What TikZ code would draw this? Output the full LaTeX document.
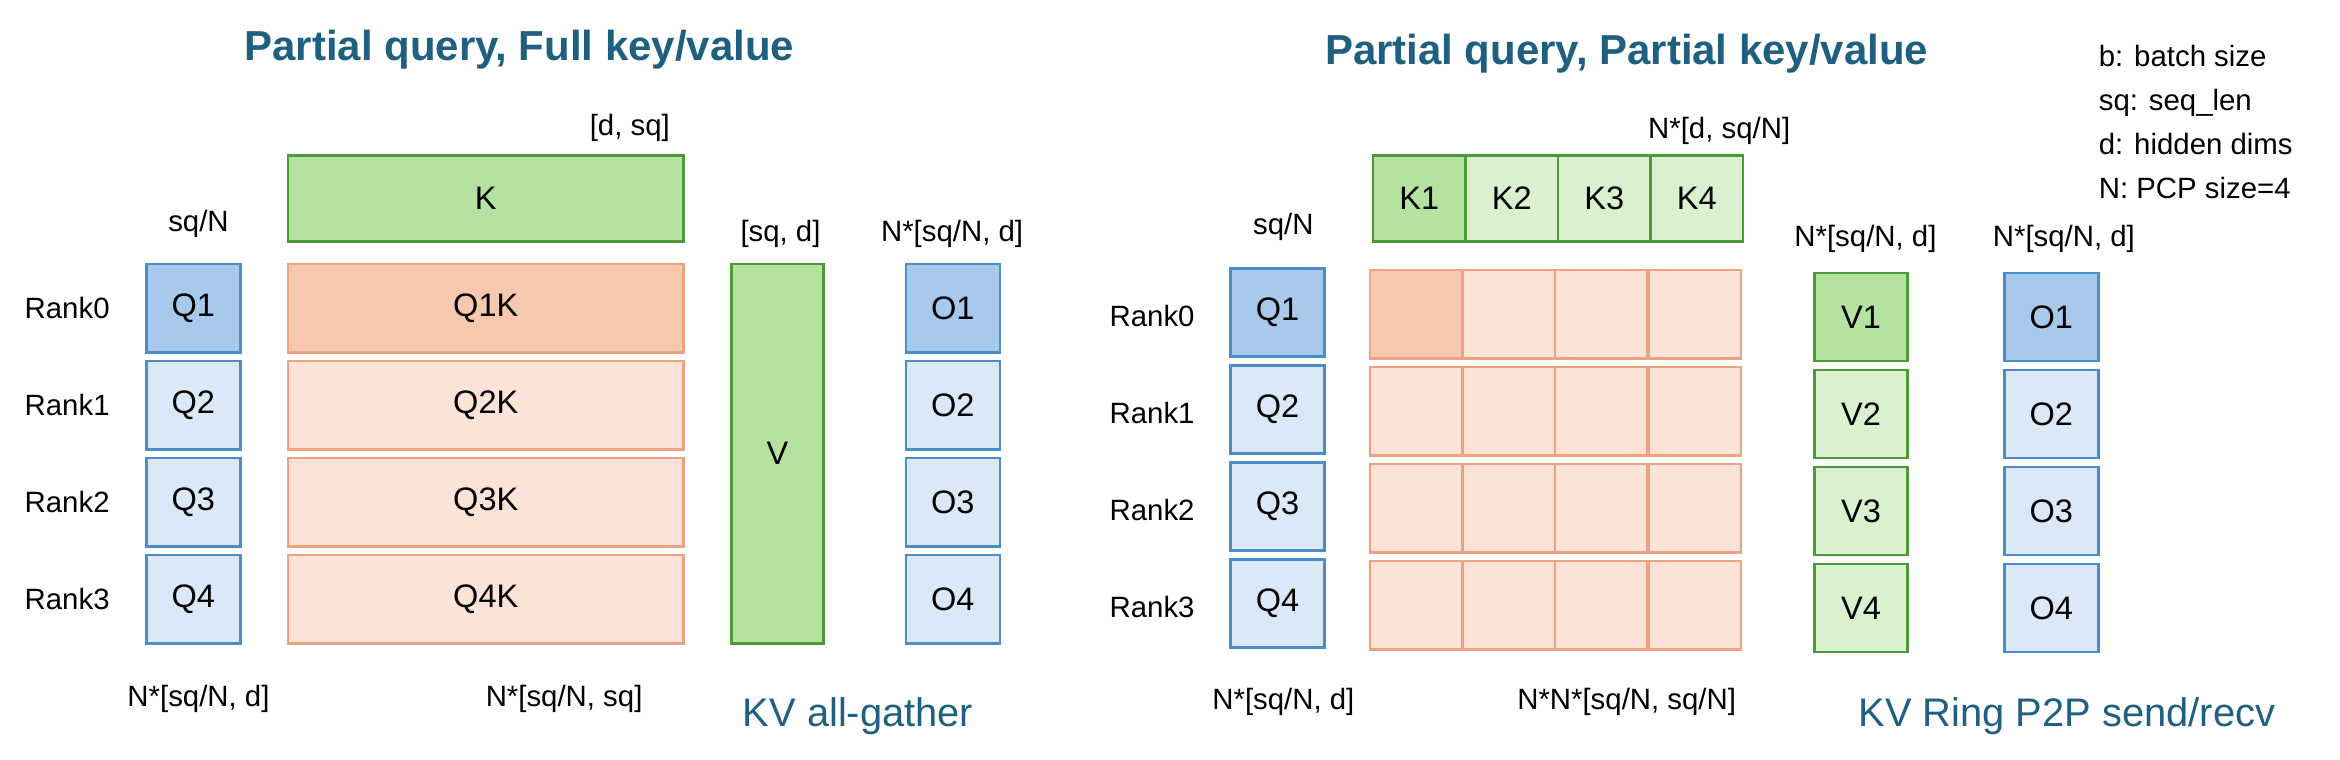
\documentclass[tikz,border=0pt]{standalone}
\usepackage{fontspec}
\setmainfont{Liberation Sans}
\usetikzlibrary{positioning}
\definecolor{titleblue}{HTML}{1F5F7F}
\definecolor{qdark}{HTML}{A6C9EC}
\definecolor{qlight}{HTML}{DAE8F7}
\definecolor{qline}{HTML}{4A8DCB}
\definecolor{kdark}{HTML}{B4E3A1}
\definecolor{klight}{HTML}{D9F1CF}
\definecolor{kline}{HTML}{4E9A3A}
\definecolor{sdark}{HTML}{F6C8AD}
\definecolor{slight}{HTML}{FBE3D7}
\definecolor{sline}{HTML}{EFA27F}
\begin{document}
\begin{tikzpicture}[x=0.1mm,y=-0.1mm,
    txt/.style={font=\fontsize{5.6}{6.5}\selectfont},
    ttl/.style={font=\fontsize{8}{9}\selectfont\bfseries, text=titleblue},
    big/.style={font=\fontsize{7.6}{9}\selectfont, text=titleblue},
    box/.style={draw, line width=0.5pt, inner sep=0pt, font=\fontsize{6.2}{7}\selectfont},
    qbox/.style={box, draw=qline, fill=qlight, minimum width=6.3mm, minimum height=5.9mm},
    kbox/.style={box, draw=kline, fill=klight},
    sbox/.style={box, draw=sline, fill=slight}
  ]
  \useasboundingbox (0,0) rectangle (1568,509);

  % Left: full key/value
  \node[ttl] (titleA) at (348,33) {Partial query, Full key/value};
  \node[kbox, fill=kdark, minimum width=26.5mm, minimum height=5.8mm] (K) at (325.5,133) {K};
  \node[txt] (dsq) at (422,86) {[d, sq]};
  \node[txt] (sqnA) at (133,150) {sq/N};
  \node[kbox, fill=kdark, minimum width=6.2mm, minimum height=25.4mm] (V) at (521,304) {V};
  \node[txt] (sqd) at (523,157) {[sq, d]};
  \node[txt] (oshA) at (638,157) {N*[sq/N, d]};
  \foreach \i/\y in {1/206.5,2/271.5,3/336.5,4/401.5}{
    \pgfmathtruncatemacro{\r}{\i-1}
    \node[txt] (rankA\i) at (45,\y) {Rank\r};
    \node[qbox] (qA\i) at (129.5,\y) {Q\i};
    \node[sbox, minimum width=26.5mm, minimum height=5.9mm] (sA\i) at (325.5,\y) {Q\i K};
    \node[qbox] (oA\i) at (638.5,\y) {O\i};
  }
  \node[qbox, fill=qdark] at (qA1) {Q1};
  \node[sbox, fill=sdark, minimum width=26.5mm, minimum height=5.9mm] at (sA1) {Q1K};
  \node[qbox, fill=qdark] at (oA1) {O1};
  \node[txt] (qshA) at (133,468) {N*[sq/N, d]};
  \node[txt] (sshA) at (378,468) {N*[sq/N, sq]};
  \node[big] (agA) at (575,480) {KV all-gather};

  % Right: partial key/value
  \node[ttl] (titleB) at (1090,36) {Partial query, Partial key/value};
  \node[txt, align=left, anchor=north west, font=\fontsize{5.6}{8.4}\selectfont] (legend) at (1394,18)
    {b: batch size\\sq: seq\_len\\d: hidden dims\\N: PCP size=4};
  \node[txt] (dsqn) at (1152,88) {N*[d, sq/N]};
  \node[txt] (sqnB) at (860,152) {sq/N};
  \node[txt] (vsh) at (1250,160) {N*[sq/N, d]};
  \node[txt] (oshB) at (1383,160) {N*[sq/N, d]};
  \foreach \j/\x in {1/951,2/1013,3/1075,4/1137}{
    \node[kbox, minimum width=6.2mm, minimum height=5.8mm] (k\j) at (\x,133) {K\j};
  }
  \node[kbox, fill=kdark, minimum width=6.2mm, minimum height=5.8mm] at (k1) {K1};
  \foreach \i/\y in {1/209.5,2/274.5,3/339.5,4/404.5}{
    \pgfmathtruncatemacro{\r}{\i-1}
    \node[txt] (rankB\i) at (772,\y+2) {Rank\r};
    \node[qbox] (qB\i) at (856,\y) {Q\i};
    \foreach \j/\x in {1/949,2/1011,3/1073,4/1135.5}
      \node[sbox, minimum width=6.2mm, minimum height=5.9mm] (s\i\j) at (\x,\y+1) {};
    \node[kbox, minimum width=6.2mm, minimum height=5.9mm] (v\i) at (1247,\y+3) {V\i};
    \node[qbox] (oB\i) at (1374.5,\y+3) {O\i};
  }
  \node[qbox, fill=qdark] at (qB1) {Q1};
  \node[sbox, fill=sdark, minimum width=6.2mm, minimum height=5.9mm] at (s11) {};
  \node[kbox, fill=kdark, minimum width=6.2mm, minimum height=5.9mm] at (v1) {V1};
  \node[qbox, fill=qdark] at (oB1) {O1};
  \node[txt] (qshB) at (860,470) {N*[sq/N, d]};
  \node[txt] (sshB) at (1090,470) {N*N*[sq/N, sq/N]};
  \node[big] (ring) at (1385,480) {KV Ring P2P send/recv};
\end{tikzpicture}
\end{document}
